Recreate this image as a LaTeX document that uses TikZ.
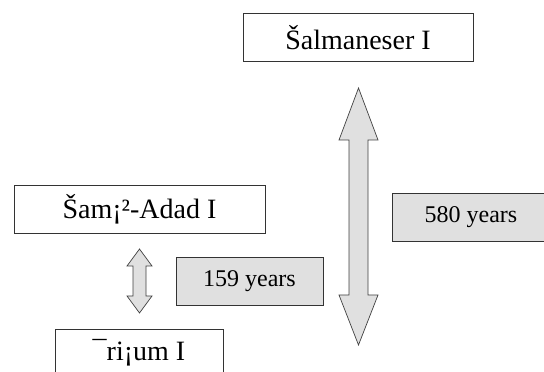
\documentclass[tikz,border=0pt]{standalone}
\usepackage{fontspec}
\setmainfont{Liberation Serif}
\usepackage{tikz}

\begin{document}
\begin{tikzpicture}[
  x = 1pt, y = 1pt,
  king/.style = {draw = black!80, line width = 0.8pt, minimum width = #1,
    minimum height = 48pt, font = \fontsize{28}{32}\selectfont},
  yearbox/.style = {draw = black!80, line width = 0.8pt, fill = black!12,
    minimum width = #1, minimum height = 48pt, font = \fontsize{24}{28}\selectfont},
  bar/.style = {draw = black!75, line width = 0.7pt, fill = black!12}
  ]
  \useasboundingbox (0,0) rectangle (544,372);
  \node[king = 230pt] (salm) at (358, 334.5) {Šalmaneser I};
  \node[king = 251pt] (shamshi) at (139.5, 163) {Šam¡²-Adad I};
  \node[king = 168pt] (erishum) at (139, 19) {¯ri¡um I};
  \node[yearbox = 147pt] (short) at (249.5, 90.5) {159 years};
  \node[yearbox = 158pt] (long) at (471, 155) {580 years};
  % double arrows
  \draw[bar] (139.5,123) -- (152,106) -- (146,106) -- (146,76) -- (152,76)
    -- (139.5,59) -- (127,76) -- (133,76) -- (133,106) -- (127,106) -- cycle;
  \draw[bar] (358.5,284) -- (378,232) -- (368,232) -- (368,77) -- (378,77)
    -- (358.5,27) -- (339,77) -- (349,77) -- (349,232) -- (339,232) -- cycle;
\end{tikzpicture}
\end{document}
